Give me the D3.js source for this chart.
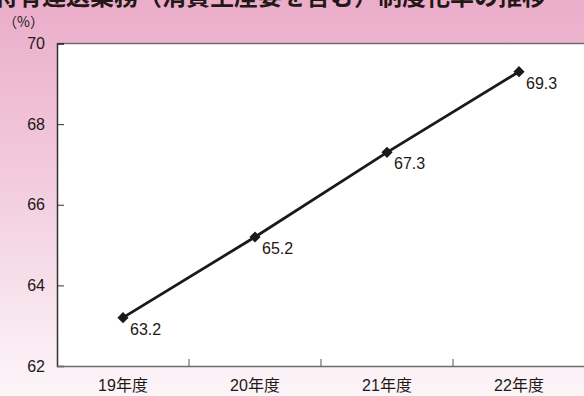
<!DOCTYPE html>
<meta charset="utf-8">
<style>
body { margin: 0; }
svg text { font-family: "Liberation Sans", Arial, "Noto Sans CJK JP", sans-serif; fill: #231815; }
</style>
<body>
<script src="https://d3js.org/d3.v7.min.js"></script>
<script>

var width = 584,
    height = 396;

// data
var years = ["19年度", "20年度", "21年度", "22年度"];
var rates = [63.2, 65.2, 67.3, 69.3];
var yTicks = [62, 64, 66, 68, 70];
var title = "特有運送業務（消費生産要を含む）制度化率の推移";

var svg = d3.select("body").append("svg")
    .attr("width", width)
    .attr("height", height);

// pink background, fades down
var grad = svg.append("defs").append("linearGradient")
    .attr("id", "bg")
    .attr("x1", 0).attr("y1", 0).attr("x2", 0).attr("y2", 1);
grad.append("stop").attr("offset", "0%").attr("stop-color", "#ebadca");
grad.append("stop").attr("offset", "45%").attr("stop-color", "#f2cbdd");
grad.append("stop").attr("offset", "100%").attr("stop-color", "#fcf6f9");

svg.append("rect")
    .attr("width", width).attr("height", height)
    .attr("fill", "url(#bg)");

var pLeft = 57, pRight = 585, pTop = 43.5, pBottom = 366;

var x = d3.scaleBand().domain(years).range([pLeft, pRight]);
var y = d3.scaleLinear().domain([62, 70]).range([pBottom, pTop]);

// plot area
svg.append("rect")
    .attr("x", pLeft).attr("y", pTop)
    .attr("width", pRight - pLeft).attr("height", pBottom - pTop)
    .attr("fill", "#fff");

// title (cut at top of the picture)
svg.append("text")
    .attr("x", -6).attr("y", 5)
    .style("font-family", "'Noto Sans CJK JP', sans-serif")
    .style("font-size", "24px")
    .style("font-weight", "bold")
    .text(title);

svg.append("text")
    .attr("x", 3).attr("y", 27)
    .style("font-family", "'Noto Sans CJK JP', sans-serif")
    .style("font-size", "14px")
    .text("（%）");

// top frame line
svg.append("line")
    .attr("x1", pLeft).attr("x2", pRight)
    .attr("y1", pTop).attr("y2", pTop)
    .attr("stroke", "#6d6d6d").attr("stroke-width", 1.5);

// y axis
var yAxis = svg.append("g")
    .attr("transform", "translate(" + pLeft + ",0)")
    .call(d3.axisRight(y).tickValues(yTicks).tickSize(7).tickFormat(d3.format("d")));
yAxis.select(".domain").attr("stroke", "#333").attr("stroke-width", 1.5);
yAxis.selectAll(".tick line").attr("stroke", "#333");
yAxis.selectAll(".tick text")
    .attr("x", -12)
    .attr("text-anchor", "end")
    .style("font-size", "16px")
    .style("font-family", "'Liberation Sans', Arial, sans-serif")
    .style("fill", "#231815");

// x axis
var xAxis = svg.append("g")
    .attr("transform", "translate(0," + pBottom + ")")
    .call(d3.axisBottom(x).tickSize(0).tickPadding(14));
xAxis.select(".domain").attr("stroke", "#6d6d6d").attr("stroke-width", 1.5);
xAxis.selectAll(".tick text")
    .style("font-size", "16px")
    .style("font-family", "'Liberation Sans', 'Noto Sans CJK JP', sans-serif")
    .style("fill", "#231815");

// category dividers
svg.selectAll("line.div")
    .data(years.slice(1))
    .enter().append("line")
    .attr("class", "div")
    .attr("x1", function(d) { return x(d); })
    .attr("x2", function(d) { return x(d); })
    .attr("y1", pBottom).attr("y2", pBottom - 7)
    .attr("stroke", "#555");

var cx = function(d, i) { return x(years[i]) + x.bandwidth() / 2; };

var line = d3.line()
    .x(function(d, i) { return cx(d, i); })
    .y(function(d) { return y(d); });

svg.append("path")
    .datum(rates)
    .attr("d", line)
    .attr("fill", "none")
    .attr("stroke", "#1a1a1a")
    .attr("stroke-width", 2.8);

svg.selectAll("path.mark")
    .data(rates)
    .enter().append("path")
    .attr("class", "mark")
    .attr("d", d3.symbol().type(d3.symbolDiamond2).size(80))
    .attr("transform", function(d, i) { return "translate(" + cx(d, i) + "," + y(d) + ")"; })
    .attr("fill", "#1a1a1a");

svg.selectAll("text.lab")
    .data(rates)
    .enter().append("text")
    .attr("class", "lab")
    .attr("x", function(d, i) { return cx(d, i) + 7; })
    .attr("y", function(d) { return y(d) + 17; })
    .style("font-size", "16px")
    .text(function(d) { return d.toFixed(1); });

</script>
